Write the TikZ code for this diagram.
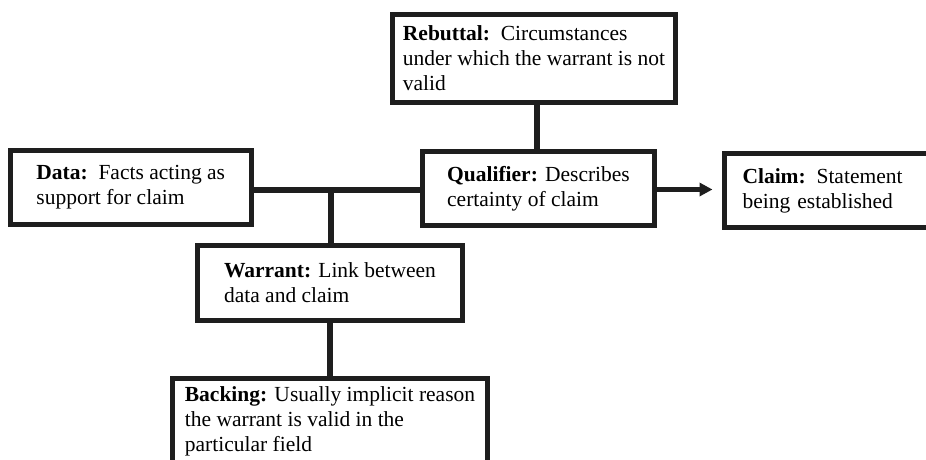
\documentclass[tikz,border=0pt]{standalone}
\usepackage{fontspec}
\setmainfont{Liberation Serif}
\usetikzlibrary{arrows.meta}
\definecolor{ink}{HTML}{1E1E1E}
\begin{document}
\begin{tikzpicture}[x=1pt,y=-1pt,
  part/.style={draw=ink, line width=5pt, rectangle, align=left, inner sep=0pt,
    font=\fontsize{21.5}{25}\selectfont},
  link/.style={draw=ink, line width=6pt},
  push/.style={draw=ink, line width=5pt, -{Triangle[length=13pt,width=13pt]}}]
  \useasboundingbox (0,0) rectangle (926,459);

  % Toulmin model components
  \node[part, minimum width=283pt, minimum height=88.5pt] (rebuttal) at (534,58.25)
    {\textbf{Rebuttal:}\ \ Circumstances\\under which the warrant is not\\valid};
  \node[part, minimum width=240.5pt, minimum height=73.5pt] (data) at (130.75,187.25)
    {\textbf{Data:}\ \ Facts acting as\\support for claim};
  \node[part, minimum width=232pt, minimum height=73.5pt] (qualifier) at (538.5,188.25)
    {\textbf{Qualifier:} Describes\\certainty of claim};
  \node[part, text width=179pt, inner xsep=18.5pt, minimum height=74pt] (claim) at (832,190.5)
    {\textbf{Claim:} Statement\\being established};
  \node[part, minimum width=265pt, minimum height=75.5pt] (warrant) at (330,282.75)
    {\textbf{Warrant:} Link between\\data and claim};
  \node[part, minimum width=315pt, minimum height=86pt, anchor=north] (backing) at (330,375.5)
    {\textbf{Backing:} Usually implicit reason\\the warrant is valid in the\\particular field};

  % connectors
  \coordinate (j) at (330.5,189.5);
  \coordinate (r) at (536.5,102.5);
  \draw[link] (data.east |- j) -- (qualifier.west |- j);
  \draw[link] (j) -- (j |- warrant.north);
  \draw[link] (rebuttal.south -| r) -- (r |- qualifier.north);
  \draw[link] (warrant.south) -- (backing.north);
  \draw[push, shorten >=9pt] (qualifier.east |- j) -- (claim.west |- j);
\end{tikzpicture}
\end{document}
